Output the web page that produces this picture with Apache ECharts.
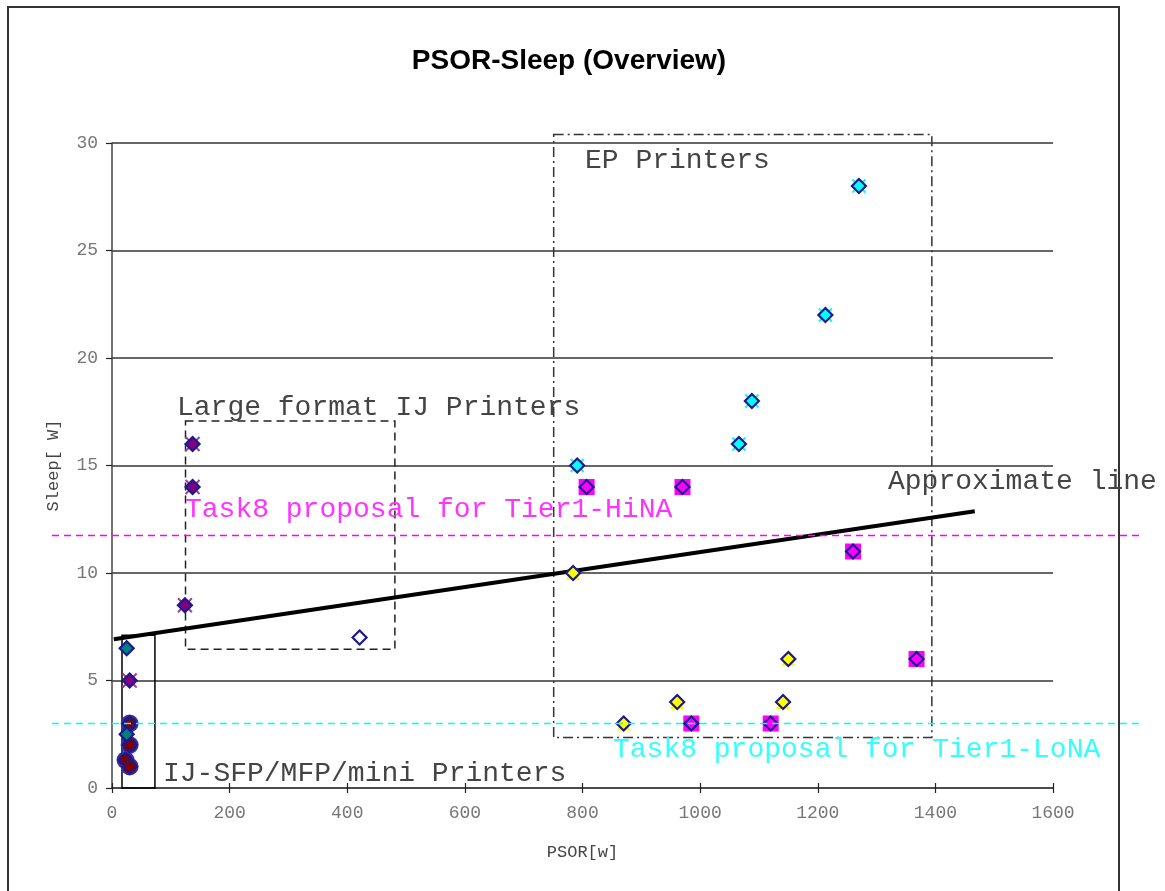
<!DOCTYPE html>
<html><head><meta charset="utf-8">
<script src="https://cdn.jsdelivr.net/npm/echarts@6/dist/echarts.min.js"></script>
<style>html,body{margin:0;padding:0;background:#fff}#c{width:1165px;height:891px}</style>
</head><body><div id="c"></div>
<script>
// ---- data ----
const titleText = 'PSOR-Sleep (Overview)';
const xName = 'PSOR[w]';
const yName = 'Sleep[ W]';
const ijCircle = [[30,3],[30,2],[23,1.3],[30,1]];
const ijTeal = [[25,6.5],[25,2.5]];
const purpleX = [[30,5],[137,16],[137,14],[124,8.5]];
const hollowPts = [[421,7]];
const cyanX = [[791,15],[1066,16],[1088,18],[1213,22],[1270,28]];
const yellowPts = [[784,10],[870,3],[961,4],[1141,4],[1150,6]];
const magentaPts = [[807,14],[970,14],[985,3],[1120,3],[1260,11],[1368,6]];
const approxLine = [[3,6.92],[1467,12.87]];
const hinaLevel = 11.75;
const lonaLevel = 3;
// boxes: [xMin, xMax, yMin, yMax]
const boxIJ = [17,73,0,7.1];
const boxLF = [125,481,6.45,17.07];
const boxEP = [751,1394,2.35,30.4];

const NAVY = '#1a1a8c';
const X_PATH = 'path://M0,0L10,10M10,0L0,10';
const MONO = '"Liberation Mono","DejaVu Sans Mono",monospace';

const chart = echarts.init(document.getElementById('c'));

function diamond(name, data, fill) {
  return {type:'scatter', name, data, symbol:'diamond', symbolSize:14, z:5,
    itemStyle:{color:fill, borderColor:NAVY, borderWidth:2.2, opacity:1}};
}
const boxStyles = [
  {stroke:'#000', lineWidth:1.5, lineDash:null},
  {stroke:'#222', lineWidth:1.5, lineDash:[8,5]},
  {stroke:'#333', lineWidth:1.5, lineDash:[10,4,2,4]}
];

const option = {
  animation:false,
  backgroundColor:'#fff',
  title:{text:titleText, left:564, top:42, textAlign:'center',
    textStyle:{fontFamily:'"Liberation Sans",Arial,sans-serif', fontWeight:'bold', fontSize:28, color:'#000'}},
  grid:{left:112, right:112, top:143, bottom:103},
  xAxis:[{
    type:'value', min:0, max:1600, interval:200,
    name:xName, nameLocation:'middle', nameGap:56,
    nameTextStyle:{fontFamily:MONO, fontSize:17, color:'#444'},
    axisLine:{show:true, onZero:false, lineStyle:{color:'#444', width:1.5}},
    axisTick:{show:true, inside:false, length:5, lineStyle:{color:'#222', width:1.2}},
    axisLabel:{fontFamily:MONO, fontSize:18, color:'#777', margin:16, formatter:v=>String(v)},
    splitLine:{show:false}
  },{
    type:'value', min:0, max:1600, interval:200, position:'bottom',
    axisLine:{show:false}, axisLabel:{show:false}, splitLine:{show:false},
    axisTick:{show:true, inside:true, length:5, lineStyle:{color:'#222', width:1.2}}
  }],
  yAxis:{
    type:'value', min:0, max:30, interval:5,
    name:yName, nameLocation:'middle', nameGap:50, nameRotate:90,
    nameTextStyle:{fontFamily:MONO, fontSize:17, color:'#444'},
    axisLine:{show:true, onZero:false, lineStyle:{color:'#444', width:1.5}},
    axisTick:{show:true, inside:false, length:6, lineStyle:{color:'#222', width:1.2}},
    axisLabel:{fontFamily:MONO, fontSize:18, color:'#777', margin:14, formatter:v=>String(v)},
    splitLine:{show:true, lineStyle:{color:'#333', width:1.5}}
  },
  series:[
    {type:'custom', name:'boxes', clip:false, z:3, silent:true,
      data:[boxIJ, boxLF, boxEP],
      renderItem:(params, api)=>{
        const p1 = api.coord([api.value(0), api.value(3)]);
        const p2 = api.coord([api.value(1), api.value(2)]);
        const s = boxStyles[params.dataIndex];
        return {type:'rect', shape:{x:p1[0], y:p1[1], width:p2[0]-p1[0], height:p2[1]-p1[1]},
          style:{fill:'none', stroke:s.stroke, lineWidth:s.lineWidth, lineDash:s.lineDash}};
      }},
    {type:'line', name:'Approximate line', data:approxLine, showSymbol:false, symbol:'none', z:4,
      lineStyle:{color:'#000', width:4}},
    // underlying markers
    {type:'scatter', data:magentaPts, symbol:'rect', symbolSize:16, z:4, itemStyle:{color:'#ff00ff', opacity:1}},
    {type:'scatter', data:yellowPts, symbol:'triangle', symbolSize:14, z:4, itemStyle:{color:'#ffff00', opacity:1}},
    {type:'scatter', data:cyanX, symbol:X_PATH, symbolSize:13, z:4, itemStyle:{color:'rgba(0,0,0,0)', borderColor:'#00ffff', borderWidth:2, opacity:1}},
    {type:'scatter', data:purpleX, symbol:X_PATH, symbolSize:14, z:4, itemStyle:{color:'rgba(0,0,0,0)', borderColor:'#a040a0', borderWidth:2, opacity:1}},
    {type:'scatter', data:ijCircle, symbol:'circle', symbolSize:16, z:4, itemStyle:{color:'#800000', borderColor:'#3030b0', borderWidth:2, opacity:1}},
    {type:'scatter', data:ijTeal, symbol:'path://M0,0L16,0', symbolSize:[17,2], z:4, itemStyle:{color:'rgba(0,0,0,0)', borderColor:'#3050c0', borderWidth:2, opacity:1}},
    // diamonds on top
    diamond('magenta', magentaPts, '#ff00ff'),
    diamond('yellow', yellowPts, '#ffff00'),
    diamond('cyan', cyanX, '#00ffff'),
    diamond('purple', purpleX, '#800080'),
    diamond('ijc', ijCircle, '#800000'),
    diamond('ijt', ijTeal, '#008080'),
    diamond('hollow', hollowPts, 'rgba(255,255,255,0)')
  ]
};
chart.setOption(option);

function py(v){ return chart.convertToPixel({xAxisIndex:0, yAxisIndex:0}, [0, v])[1]; }
const txt = (text, x, y, color) => ({type:'text', left:x, top:y, z:20,
  style:{text, fontFamily:MONO, fontSize:28, fill:color}});
chart.setOption({graphic:[
  {type:'rect', shape:{x:8, y:7, width:1111, height:900}, style:{fill:'none', stroke:'#333', lineWidth:2}, z:1},
  {type:'line', shape:{x1:52, y1:py(hinaLevel), x2:1140, y2:py(hinaLevel)}, style:{stroke:'#ff00ff', lineWidth:1.5, lineDash:[7,5]}, z:10},
  {type:'line', shape:{x1:52, y1:py(lonaLevel), x2:1140, y2:py(lonaLevel)}, style:{stroke:'#00ffff', lineWidth:1.5, lineDash:[7,5]}, z:10},
  txt('EP Printers', 585, 147, '#444'),
  txt('Large format IJ Printers', 177, 394, '#444'),
  txt('Approximate line', 888, 468, '#444'),
  txt('Task8 proposal for Tier1-HiNA', 185, 496, '#ff33ff'),
  txt('Task8 proposal for Tier1-LoNA', 613, 736, '#33ffff'),
  txt('IJ-SFP/MFP/mini Printers', 163, 760, '#444')
]});
</script></body></html>
